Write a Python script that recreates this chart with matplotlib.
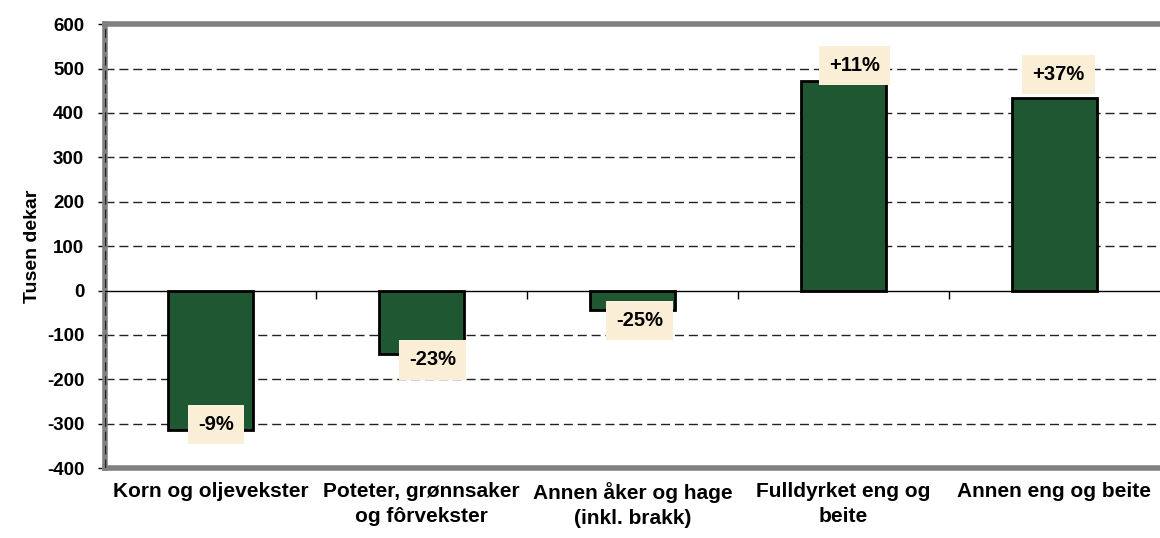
import matplotlib.pyplot as plt
import numpy as np

plt.rcParams['font.family'] = ['Liberation Sans', 'DejaVu Sans']
plt.rcParams['font.weight'] = 'bold'
plt.rcParams['axes.unicode_minus'] = False

categories = ['Korn og oljevekster', 'Poteter, grønnsaker\nog fôrvekster',
              'Annen åker og hage\n(inkl. brakk)', 'Fulldyrket eng og\nbeite',
              'Annen eng og beite']
change = [-315, -144, -45, 472, 434]   # tusen dekar
pct_labels = ['-9%', '-23%', '-25%', '+11%', '+37%']
# label offsets (points) from bar end
label_dx = [4, 8, 5, 8, 3]
label_dy = [4, -4, -7, 11, 17]

ymin, ymax = -400, 600

fig = plt.figure(figsize=(11.6, 5.38), dpi=100)
ax = fig.add_axes([0.0905, 0.130, 0.9095, 0.825])

x = np.arange(len(categories))
ax.bar(x, change, width=0.40, color='#1f5732', edgecolor='black', linewidth=2, zorder=3)

for xi, v, lab, dx, dy in zip(x, change, pct_labels, label_dx, label_dy):
    ax.annotate(lab, (xi, v), xytext=(dx, dy), textcoords='offset points',
                ha='center', va='center', fontsize=14.5, fontweight='bold', zorder=5,
                bbox=dict(boxstyle='square,pad=0.5', facecolor='#fbeed6', edgecolor='none'))

ax.set_xlim(-0.5, len(categories) - 0.5)
ax.set_ylim(ymin, ymax)
ax.set_yticks(range(ymin, ymax + 1, 100))
ax.tick_params(axis='y', labelsize=13.5, length=5, width=1, pad=10)
ax.set_xticks(x)
ax.set_xticklabels(categories, fontsize=15, fontweight='bold', linespacing=1.4)
ax.tick_params(axis='x', length=0, pad=10)
ax.set_ylabel('Tusen dekar', fontsize=14, fontweight='bold', labelpad=4)

# gridlines
for yv in range(-300, 600, 100):
    if yv != 0:
        ax.axhline(yv, color='#222222', lw=1, ls=(0, (6.5, 3.5)), zorder=1)
ax.axhline(0, color='black', lw=1, zorder=4)
ax.axvline(-0.5, color='#222222', lw=1, ls=(0, (6.5, 3.5)), zorder=6)

for s in ['left', 'top', 'bottom']:
    ax.spines[s].set_color('#808080')
    ax.spines[s].set_linewidth(4)
ax.spines['right'].set_visible(False)

# category separator ticks on the zero line
sec = ax.secondary_xaxis((0 - ymin) / (ymax - ymin))
sec.xaxis.set_ticks_position('bottom')
sec.set_xticks(np.arange(0.5, len(categories) - 1, 1))
sec.set_xticklabels([])
sec.tick_params(length=6, width=1, direction='out')
sec.spines['bottom'].set_visible(False)
sec.spines['top'].set_visible(False)

fig.savefig('out.png', dpi=100)
